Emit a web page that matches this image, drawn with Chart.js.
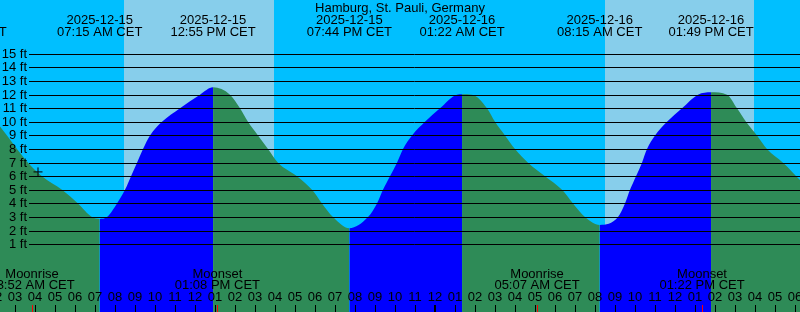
<!DOCTYPE html>
<html>
<head>
<meta charset="utf-8">
<script src="https://cdn.jsdelivr.net/npm/chart.js@4.4.1/dist/chart.umd.min.js"></script>
<style>
    html, body { margin: 0; padding: 0; background: #00bfff; }
    #wrap { width: 800px; height: 312px; position: relative; }
</style>
</head>
<body>
<div id="wrap"><canvas id="tideChart"></canvas></div>
<script>
// all times are hours counted from 2025-12-15 00:00 CET
const tideHours = [2.265, 2.615, 3.115, 3.665, 4.365, 5.365, 6.165, 6.865, 7.25,
    7.615, 8.115, 8.515, 8.815, 9.115, 9.415, 9.765, 10.365, 11.265, 12.265, 12.917,
    13.765, 14.265, 14.665, 15.165, 15.665, 16.165, 17.115, 17.865, 18.365, 18.915, 19.733,
    20.665, 21.115, 21.415, 21.765, 22.115, 22.415, 22.865, 23.515, 24.265, 25.115, 25.367,
    25.865, 26.615, 27.015, 27.515, 28.015, 28.665, 29.515, 30.365, 30.915, 31.515, 32.25,
    33.165, 33.515, 33.765, 34.065, 34.365, 34.615, 35.015, 35.615, 36.365, 37.165, 37.817,
    38.615, 39.115, 39.565, 40.115, 40.615, 41.415, 42.265];
const tideFeet = [9.65, 9, 8, 7, 6, 5, 4, 3, 2.86,
    3, 4, 5, 6, 7, 8, 9, 10, 11, 12, 12.54,
    12, 11, 10, 9, 8, 7, 6, 5, 4, 3, 2.18,
    3, 4, 5, 6, 7, 8, 9, 10, 11, 12, 12.03,
    12, 11, 10, 9, 8, 7, 6, 5, 4, 3, 2.42,
    3, 4, 5, 6, 7, 8, 9, 10, 11, 12, 12.18,
    12, 11, 10, 9, 8, 7, 5.73];

// high / low tide events shown along the top
const eventHours = [0.467, 7.25, 12.917, 19.733, 25.367, 32.25, 37.817];
const eventDates = ['2025-12-15', '2025-12-15', '2025-12-15', '2025-12-15', '2025-12-16', '2025-12-16', '2025-12-16'];
const eventTimes = ['12:28 AM CET', '07:15 AM CET', '12:55 PM CET', '07:44 PM CET', '01:22 AM CET', '08:15 AM CET', '01:49 PM CET'];

// daylight
const sunriseHours = [8.465, 32.515];
const sunsetHours = [15.965, 39.965];

// moon events shown along the bottom
const moonHours = [3.867, 13.133, 29.117, 37.367];
const moonNames = ['Moonrise', 'Moonset', 'Moonrise', 'Moonset'];
const moonTimes = ['03:52 AM CET', '01:08 PM CET', '05:07 AM CET', '01:22 PM CET'];

// current position marker
const nowHour = 4.165;
const nowFeet = 6.32;

const feetTicks = [1, 2, 3, 4, 5, 6, 7, 8, 9, 10, 11, 12, 13, 14, 15];
const hourTicks = [];
for (let h = 2; h <= 42; h++) hourTicks.push(h);

const title = 'Hamburg, St. Pauli, Germany';

const nightColor = '#00bfff';
const dayColor = '#87ceeb';
const floodColor = '#0000ff';
const ebbColor = '#2e8b57';
const font = '13px "Liberation Sans", Arial, sans-serif';

const hourLabel = (h) => String((h % 12) || 12).padStart(2, '0');

const tideDecor = {
    id: 'tideDecor',
    beforeDatasetsDraw(chart) {
        const { ctx, chartArea: a, scales: { x } } = chart;
        ctx.save();
        ctx.fillStyle = nightColor;
        ctx.fillRect(a.left, a.top, a.width, a.height);
        ctx.fillStyle = dayColor;
        sunriseHours.forEach((rise, i) => {
            const x0 = Math.round(x.getPixelForValue(rise));
            const x1 = Math.round(x.getPixelForValue(sunsetHours[i]));
            ctx.fillRect(x0, a.top, x1 - x0, a.height);
        });
        ctx.restore();
    },
    afterDatasetsDraw(chart) {
        const { ctx, chartArea: a, scales: { x, y } } = chart;
        ctx.save();
        ctx.font = font;
        ctx.fillStyle = '#000';
        ctx.strokeStyle = '#000';
        ctx.lineWidth = 1;

        // height lines and their labels
        feetTicks.forEach((ft) => {
            const py = Math.round(y.getPixelForValue(ft)) + 0.5;
            ctx.beginPath();
            ctx.moveTo(29, py);
            ctx.lineTo(a.right, py);
            ctx.stroke();
            ctx.textAlign = 'right';
            ctx.textBaseline = 'middle';
            ctx.fillText(ft + ' ft', 27, py);
        });

        // title and tide events
        ctx.textAlign = 'center';
        ctx.textBaseline = 'alphabetic';
        ctx.fillText(title, (a.left + a.right) / 2, 12);
        eventHours.forEach((h, i) => {
            const px = x.getPixelForValue(h);
            ctx.fillText(eventDates[i], px, 24);
            ctx.fillText(eventTimes[i], px, 36);
        });

        // moon events
        moonHours.forEach((h, i) => {
            const px = x.getPixelForValue(h);
            ctx.fillText(moonNames[i], px, 278);
            ctx.fillText(moonTimes[i], px, 289);
        });

        // hour ticks
        hourTicks.forEach((h) => {
            const px = Math.round(x.getPixelForValue(h));
            ctx.fillText(hourLabel(h), px, 301);
            if (h % 24 === 0) {
                ctx.fillRect(px - 1, a.bottom - 7, 2, 7);
            } else {
                ctx.fillRect(px, a.bottom - 7, 1, 7);
            }
        });

        // moon ticks in red
        ctx.fillStyle = '#ff0000';
        moonHours.forEach((h) => {
            const px = Math.round(x.getPixelForValue(h));
            ctx.fillRect(px, a.bottom - 7, 1, 7);
        });
        ctx.restore();
    }
};

const ctx = document.getElementById('tideChart').getContext('2d');
new Chart(ctx, {
    type: 'line',
    data: {
        datasets: [
            {
                label: 'Tide',
                data: tideHours.map((h, i) => ({ x: h, y: tideFeet[i] })),
                borderWidth: 0,
                borderColor: 'rgba(0,0,0,0)',
                backgroundColor: ebbColor,
                fill: 'start',
                pointRadius: 0,
                cubicInterpolationMode: 'monotone',
                order: 1,
                segment: {
                    backgroundColor: (c) => c.p1.parsed.y > c.p0.parsed.y ? floodColor : ebbColor,
                },
            },
            {
                type: 'scatter',
                label: 'Now',
                data: [{ x: nowHour, y: nowFeet }],
                pointStyle: 'cross',
                pointRadius: 4.5,
                borderColor: '#000',
                borderWidth: 1,
                order: 0,
            },
        ],
    },
    options: {
        responsive: true,
        maintainAspectRatio: false,
        animation: false,
        events: [],
        layout: { padding: 0, autoPadding: false },
        plugins: {
            legend: { display: false },
            tooltip: { enabled: false },
        },
        scales: {
            x: { type: 'linear', display: false, min: 2.265, max: 42.265 },
            y: { display: false, min: -3.98, max: 18.96 },
        },
    },
    plugins: [tideDecor],
});
</script>
</body>
</html>
